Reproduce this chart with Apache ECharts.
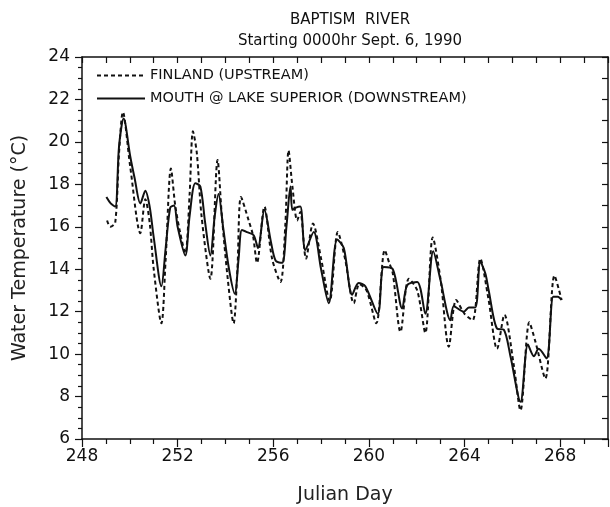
<!DOCTYPE html>
<html>
<head>
<meta charset="utf-8">
<script src="https://cdn.jsdelivr.net/npm/echarts@6/dist/echarts.min.js"></script>
<style>
  html, body { margin: 0; padding: 0; background: #fff; }
  #chart { width: 610px; height: 507px; }
</style>
</head>
<body>
<div id="chart"></div>
<script>
// Upstream gauge (Finland), Julian day and water temperature in °C
const finlandDays = [
  249.05, 249.18, 249.39, 249.55, 249.71, 250.02, 250.44, 250.65, 250.83, 251.0,
  251.32, 251.5, 251.72, 251.9, 252.11, 252.32, 252.5, 252.64, 252.8, 253.0,
  253.37, 253.67, 253.85, 254.1, 254.34, 254.5, 254.65, 254.97, 255.15, 255.32,
  255.63, 255.95, 256.3, 256.5, 256.64, 256.8, 257.0, 257.13, 257.37, 257.66,
  258.0, 258.36, 258.7, 259.0, 259.37, 259.6, 259.9, 260.31, 260.66, 260.85,
  261.0, 261.32, 261.67, 262.02, 262.36, 262.67, 263.0, 263.34, 263.65, 264.0,
  264.34, 264.66, 265.0, 265.36, 265.67, 266.05, 266.34, 266.71, 266.96, 267.38,
  267.76, 268.06
];
const finlandTemps = [
  16.3, 16.0, 16.2, 19.5, 21.4, 18.8, 15.7, 17.3, 16.2, 14.0,
  11.45, 14.5, 18.75, 17.0, 15.7, 14.75, 17.5, 20.5, 19.5, 16.5,
  13.55, 19.15, 16.5, 13.5, 11.45, 14.0, 17.4, 16.3, 15.6, 14.3,
  16.95, 14.5, 13.4, 16.0, 19.6, 17.9, 16.3, 16.7, 14.5, 16.15,
  14.5, 12.5, 15.75, 14.5, 12.4, 13.3, 13.0, 11.45, 14.9, 14.3,
  13.8, 11.05, 13.55, 13.0, 11.0, 15.5, 13.5, 10.35, 12.55, 11.9,
  11.6, 14.5, 12.6, 10.25, 11.85, 9.55, 7.35, 11.5, 10.6, 8.85,
  13.7, 12.55
];

// River mouth at Lake Superior (downstream)
const mouthDays = [
  249.02, 249.2, 249.39, 249.55, 249.74, 250.02, 250.2, 250.44, 250.65, 250.83,
  251.0, 251.32, 251.5, 251.69, 251.85, 252.0, 252.32, 252.5, 252.74, 252.95,
  253.15, 253.37, 253.55, 253.71, 253.9, 254.15, 254.39, 254.55, 254.69, 254.9,
  255.18, 255.36, 255.63, 255.9, 256.1, 256.37, 256.55, 256.72, 256.8, 256.95,
  257.13, 257.34, 257.69, 258.0, 258.32, 258.67, 258.95, 259.3, 259.57, 259.85,
  260.37, 260.62, 261.0, 261.39, 261.6, 262.02, 262.36, 262.69, 262.99, 263.41,
  263.55, 263.97, 264.18, 264.45, 264.66, 264.87, 265.01, 265.36, 265.64, 265.92,
  266.34, 266.65, 266.9, 267.1, 267.43, 267.71, 267.9, 268.06
];
const mouthTemps = [
  17.4, 17.1, 16.95, 19.8, 21.1, 19.3, 18.3, 17.1, 17.7, 16.95,
  15.5, 13.2, 15.0, 16.9, 17.0, 16.0, 14.65, 16.5, 18.05, 17.9,
  16.2, 14.65, 16.5, 17.55, 16.0, 14.0, 12.85, 14.5, 15.85, 15.75,
  15.6, 15.0, 16.8, 15.3, 14.4, 14.3, 16.0, 17.9, 16.8, 16.9,
  16.95, 14.9, 15.75, 14.0, 12.4, 15.4, 15.0, 12.8, 13.35, 13.2,
  11.9, 14.1, 14.0, 12.15, 13.25, 13.4, 11.9, 14.85, 13.5, 11.6,
  12.25, 12.0, 12.2, 12.2, 14.35, 13.8, 13.0, 11.2, 11.15, 9.9,
  7.75, 10.45, 9.9, 10.25, 9.8, 12.7, 12.7, 12.55
];

// Axis ranges and tick steps
const xRange = [248, 270];
const xLabelStep = 4;
const yRange = [6, 24];
const yLabelStep = 2;

const titleLines = ['BAPTISM  RIVER', 'Starting 0000hr Sept. 6, 1990'];
const seriesNames = ['FINLAND (UPSTREAM)', 'MOUTH @ LAKE SUPERIOR (DOWNSTREAM)'];

const pairs = (xs, ys) => xs.map((x, i) => [x, ys[i]]);

const FONT = 'DejaVu Sans';
const ink = '#111';

const chart = echarts.init(document.getElementById('chart'), null, { renderer: 'canvas' });

chart.setOption({
  animation: false,
  backgroundColor: '#fff',
  textStyle: { fontFamily: FONT, color: ink },
  title: {
    text: titleLines.join('\n'),
    left: 345,
    textAlign: 'center',
    top: 5,
    textStyle: { fontFamily: FONT, fontSize: 15, fontWeight: 'normal', color: ink, lineHeight: 21 }
  },
  legend: {
    orient: 'vertical',
    left: 91,
    top: 63,
    itemWidth: 48,
    itemHeight: 12,
    itemGap: 8,
    data: seriesNames,
    itemStyle: { opacity: 0 },
    textStyle: { fontFamily: FONT, fontSize: 14.5, color: ink }
  },
  grid: { left: 82, right: 2, top: 57, bottom: 68, containLabel: false, outerBoundsMode: 'none' },
  xAxis: [
    {
      type: 'value', min: xRange[0], max: xRange[1], interval: xLabelStep,
      name: 'Julian Day', nameLocation: 'middle', nameGap: 47,
      nameTextStyle: { fontFamily: FONT, fontSize: 19, color: '#222' },
      axisLine: { lineStyle: { color: ink, width: 1.5 } },
      axisTick: { show: true, inside: false, length: 8, lineStyle: { color: ink, width: 1.2 } },
      minorTick: { show: true, splitNumber: 4, length: 5, lineStyle: { color: ink, width: 1.2 } },
      axisLabel: {
        fontFamily: FONT, fontSize: 17, color: ink, margin: 9,
        formatter: v => (v >= xRange[1] ? '' : String(v))
      },
      splitLine: { show: false }
    },
    {
      type: 'value', position: 'top', min: xRange[0], max: xRange[1], interval: 1,
      axisLine: { lineStyle: { color: ink, width: 1.5 } },
      axisTick: { show: true, inside: true, length: 6, lineStyle: { color: ink, width: 1.2 } },
      axisLabel: { show: false },
      splitLine: { show: false }
    }
  ],
  yAxis: [
    {
      type: 'value', min: yRange[0], max: yRange[1], interval: yLabelStep,
      name: 'Water Temperature (°C)', nameLocation: 'middle', nameGap: 52,
      nameTextStyle: { fontFamily: FONT, fontSize: 19, color: '#222' },
      axisLine: { lineStyle: { color: ink, width: 1.5 } },
      axisTick: { show: true, inside: false, length: 7, lineStyle: { color: ink, width: 1.2 } },
      minorTick: { show: true, splitNumber: 4, length: 4, lineStyle: { color: ink, width: 1.2 } },
      axisLabel: { fontFamily: FONT, fontSize: 17, color: ink, margin: 12 },
      splitLine: { show: false }
    },
    {
      type: 'value', position: 'right', min: yRange[0], max: yRange[1], interval: 1,
      axisLine: { lineStyle: { color: ink, width: 1.5 } },
      axisTick: { show: true, inside: true, length: 6, lineStyle: { color: ink, width: 1.2 } },
      axisLabel: { show: false },
      splitLine: { show: false }
    }
  ],
  series: [
    {
      name: seriesNames[0], type: 'line', symbol: 'none', smooth: 0.3,
      xAxisIndex: 0, yAxisIndex: 0,
      data: pairs(finlandDays, finlandTemps),
      lineStyle: { color: ink, width: 2, type: [4, 3] },
      itemStyle: { color: ink }
    },
    {
      name: seriesNames[1], type: 'line', symbol: 'none', smooth: 0.3,
      xAxisIndex: 0, yAxisIndex: 0,
      data: pairs(mouthDays, mouthTemps),
      lineStyle: { color: ink, width: 2, type: 'solid' },
      itemStyle: { color: ink }
    }
  ]
});
</script>
</body>
</html>
